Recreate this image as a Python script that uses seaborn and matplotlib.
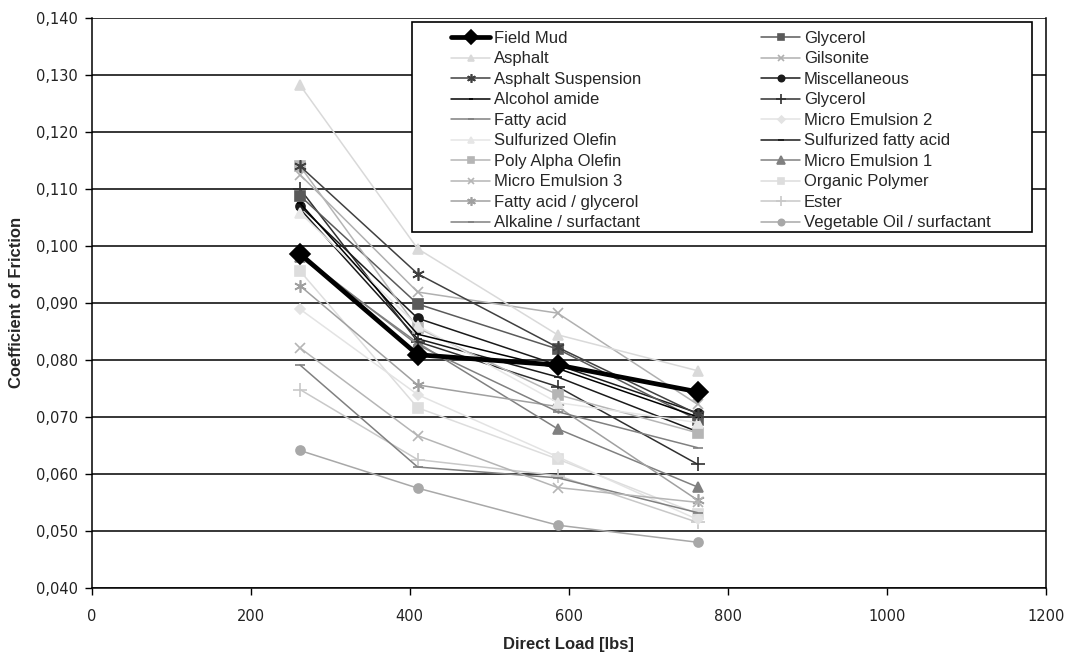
import matplotlib
matplotlib.use("Agg")
import matplotlib.pyplot as plt
import seaborn as sns
from matplotlib.ticker import FuncFormatter, MultipleLocator
from matplotlib.patches import Rectangle

# ---------------- data ----------------
loads = [262, 410, 586, 762]

series_names = [
    "Field Mud", "Asphalt", "Asphalt Suspension", "Alcohol amide", "Fatty acid",
    "Sulfurized Olefin", "Poly Alpha Olefin", "Micro Emulsion 3", "Fatty acid / glycerol",
    "Alkaline / surfactant",
    "Glycerol", "Gilsonite", "Miscellaneous", "Glycerol", "Micro Emulsion 2",
    "Sulfurized fatty acid", "Micro Emulsion 1", "Organic Polymer", "Ester",
    "Vegetable Oil / surfactant",
]

field_mud = [0.0986, 0.0809, 0.0791, 0.0744]
asphalt = [0.1282, 0.0995, 0.0844, 0.0781]
asphalt_suspension = [0.1140, 0.0951, 0.0822, 0.0705]
alcohol_amide = [0.1075, 0.0845, 0.0785, 0.0700]
fatty_acid = [0.0985, 0.0826, 0.0709, 0.0646]
sulfurized_olefin = [0.1058, 0.0860, 0.0725, 0.0690]
poly_alpha_olefin = [0.1140, 0.0856, 0.0739, 0.0672]
micro_emulsion_3 = [0.0821, 0.0667, 0.0576, 0.0550]
fatty_acid_glycerol = [0.0930, 0.0756, 0.0718, 0.0554]
alkaline_surfactant = [0.0791, 0.0612, 0.0593, 0.0532]
glycerol = [0.1088, 0.0898, 0.0819, 0.0695]
gilsonite = [0.1125, 0.0919, 0.0882, 0.0722]
miscellaneous = [0.1070, 0.0873, 0.0791, 0.0707]
glycerol_2 = [0.1100, 0.0832, 0.0753, 0.0617]
micro_emulsion_2 = [0.0889, 0.0739, 0.0630, 0.0520]
sulfurized_fatty_acid = [0.1065, 0.0837, 0.0770, 0.0674]
micro_emulsion_1 = [0.0980, 0.0830, 0.0679, 0.0577]
organic_polymer = [0.0956, 0.0716, 0.0626, 0.0530]
ester = [0.0748, 0.0625, 0.0597, 0.0515]
vegetable_oil = [0.0641, 0.0575, 0.0510, 0.0480]

values = [
    field_mud, asphalt, asphalt_suspension, alcohol_amide, fatty_acid,
    sulfurized_olefin, poly_alpha_olefin, micro_emulsion_3, fatty_acid_glycerol,
    alkaline_surfactant,
    glycerol, gilsonite, miscellaneous, glycerol_2, micro_emulsion_2,
    sulfurized_fatty_acid, micro_emulsion_1, organic_polymer, ester, vegetable_oil,
]

x_ticks = [0, 200, 400, 600, 800, 1000, 1200]

# ---------------- styles ----------------
asterisk = (6, 2, 0)
styles = [
    dict(color="#000000", marker="D", ms=10, lw=3.4),
    dict(color="#d9d9d9", marker="^", ms=7, lw=1.1),
    dict(color="#404040", marker=asterisk, ms=9, lw=1.1),
    dict(color="#000000", marker="_", ms=4, lw=1.1),
    dict(color="#808080", marker="_", ms=7, lw=1.1),
    dict(color="#e6e6e6", marker="^", ms=7, lw=1.1),
    dict(color="#b5b5b5", marker="s", ms=6.5, lw=1.1),
    dict(color="#b5b5b5", marker="x", ms=7, lw=1.1),
    dict(color="#a0a0a0", marker=asterisk, ms=9, lw=1.1),
    dict(color="#808080", marker="_", ms=7, lw=1.1),
    dict(color="#5a5a5a", marker="s", ms=6.5, lw=1.1),
    dict(color="#b0b0b0", marker="x", ms=7, lw=1.1),
    dict(color="#1a1a1a", marker="o", ms=6.5, lw=1.1),
    dict(color="#303030", marker="+", ms=10, lw=1.1),
    dict(color="#e3e3e3", marker="D", ms=5, lw=1.1),
    dict(color="#1a1a1a", marker="_", ms=6, lw=1.1),
    dict(color="#808080", marker="^", ms=7.5, lw=1.1),
    dict(color="#dddddd", marker="s", ms=6.5, lw=1.1),
    dict(color="#c8c8c8", marker="+", ms=10, lw=1.1),
    dict(color="#a8a8a8", marker="o", ms=6.5, lw=1.1),
]

# ---------------- figure ----------------
sns.set_theme(style="white")
plt.rcParams["font.family"] = ["Liberation Sans", "DejaVu Sans"]

fig = plt.figure(figsize=(10.66, 6.62), dpi=100)
ax = fig.add_axes([0.086, 0.112, 0.895, 0.861])

line_objs = [None] * len(series_names)
for i in reversed(range(len(series_names))):
    st = styles[i]
    n_before = len(ax.get_lines())
    sns.lineplot(x=loads, y=values[i], ax=ax, color=st["color"], marker=st["marker"],
                 markersize=st["ms"], linewidth=st["lw"], markeredgecolor=st["color"],
                 markeredgewidth=1.2, zorder=10 if i == 0 else 3, legend=False)
    line_objs[i] = ax.get_lines()[n_before]

ax.set_xlim(0, 1200)
ax.set_ylim(0.040, 0.140)
ax.set_xticks(x_ticks)
ax.yaxis.set_major_locator(MultipleLocator(0.01))
ax.yaxis.set_major_formatter(FuncFormatter(lambda v, p: f"{v:.3f}".replace(".", ",")))

ax.grid(axis="y", color="#000000", linewidth=1.1)
ax.grid(axis="x", visible=False)
ax.set_axisbelow(True)
for s in ["left", "bottom", "right"]:
    ax.spines[s].set_visible(True)
    ax.spines[s].set_color("#000000")
    ax.spines[s].set_linewidth(1.1)
ax.spines["top"].set_visible(False)

ax.tick_params(axis="both", which="major", direction="out", length=5, width=1,
               color="#000000", labelsize=10.5, labelcolor="#222222",
               bottom=True, left=True, pad=5)
ax.tick_params(axis="x", pad=10)
for lab in ax.get_xticklabels() + ax.get_yticklabels():
    lab.set_family("DejaVu Sans")

ax.set_xlabel("Direct Load [lbs]", fontsize=12, fontweight="bold")
ax.set_ylabel("Coefficient of Friction", fontsize=12, fontweight="bold")
ax.xaxis.set_label_coords(0.5, -0.086)
ax.yaxis.set_label_coords(-0.071, 0.5)

# legend frame
ax.add_patch(Rectangle((0.3354, 0.6246), 0.6499, 0.3684, transform=ax.transAxes,
                       facecolor="white", edgecolor="#000000", linewidth=1.2,
                       zorder=19, clip_on=False))

common = dict(frameon=False, fontsize=12, handlelength=2.3, handletextpad=0.25,
              labelspacing=0.33, borderpad=0.0, borderaxespad=0.0, loc="upper left",
              markerscale=0.7)
leg1 = ax.legend(line_objs[:10], series_names[:10],
                 bbox_to_anchor=(0.377, 0.977), **common)
leg1.set_zorder(20)
ax.add_artist(leg1)
leg2 = ax.legend(line_objs[10:], series_names[10:],
                 bbox_to_anchor=(0.702, 0.977), **common)
leg2.set_zorder(20)

fig.savefig("out.png", dpi=100)
